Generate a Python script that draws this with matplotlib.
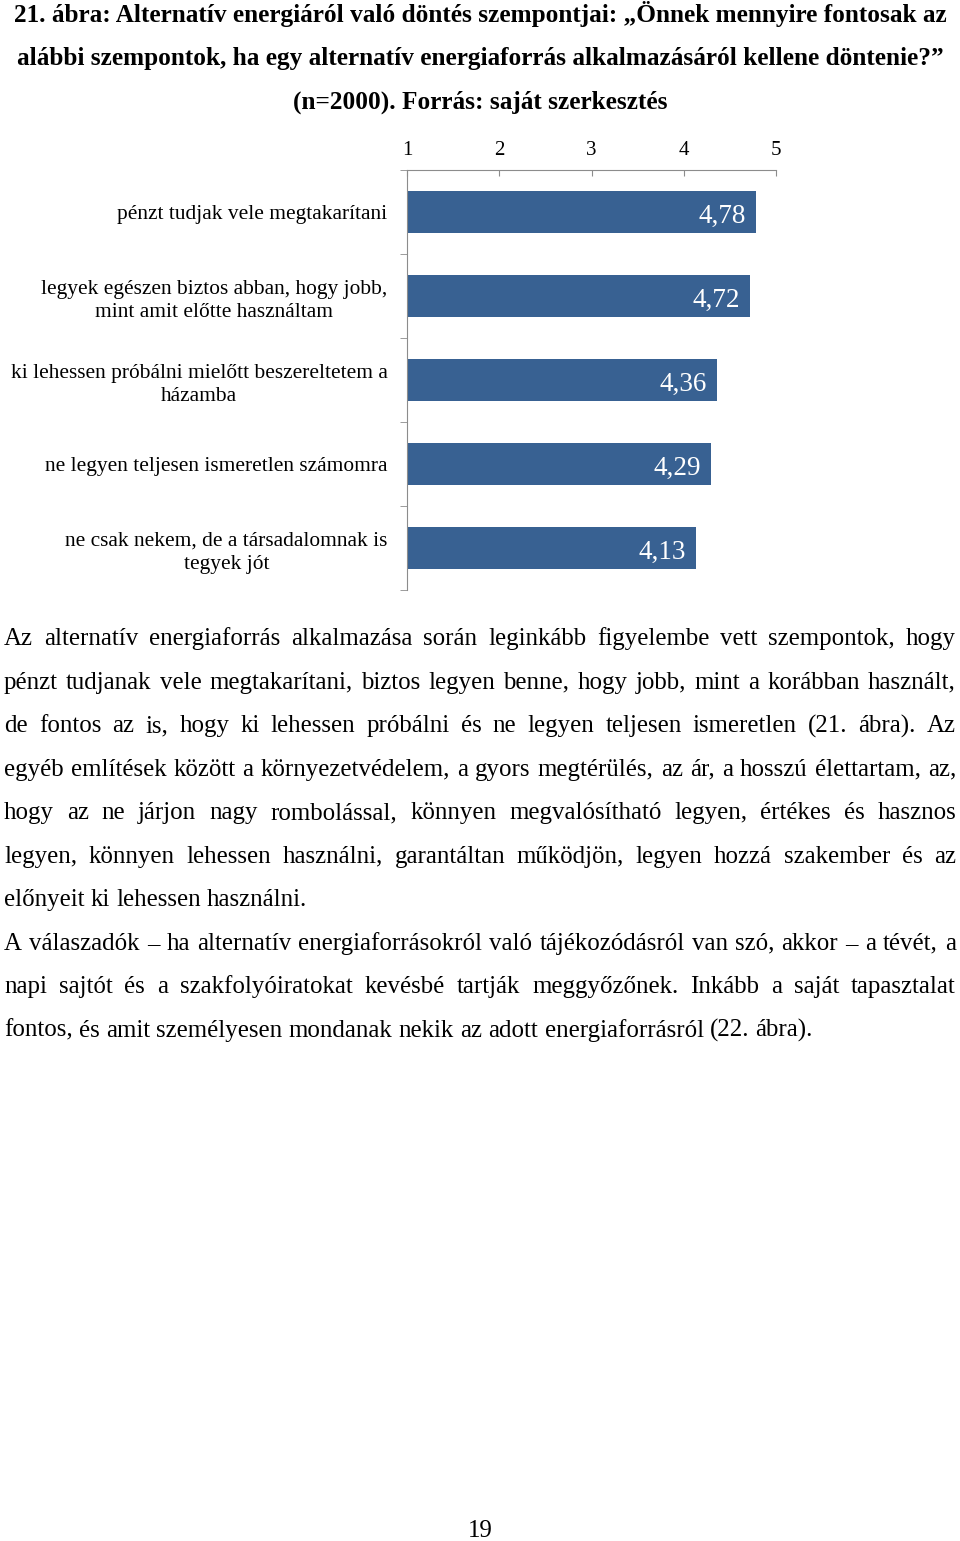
import numpy as np
import matplotlib.pyplot as plt

W, H = 960, 1541

# chart data
szempontok = [
    "pénzt tudjak vele megtakarítani",
    "legyek egészen biztos abban, hogy jobb,\nmint amit előtte használtam",
    "ki lehessen próbálni mielőtt beszereltetem a\nházamba",
    "ne legyen teljesen ismeretlen számomra",
    "ne csak nekem, de a társadalomnak is\ntegyek jót",
]
atlagok = [4.78, 4.72, 4.36, 4.29, 4.13]
skala = [1, 2, 3, 4, 5]

cim_sorok = [
    "21. ábra: Alternatív energiáról való döntés szempontjai: „Önnek mennyire fontosak az",
    "alábbi szempontok, ha egy alternatív energiaforrás alkalmazásáról kellene döntenie?”",
    "(n=2000). Forrás: saját szerkesztés",
]

# (line, justified?)
szoveg_sorok = [
    ("Az alternatív energiaforrás alkalmazása során leginkább figyelembe vett szempontok, hogy", True),
    ("pénzt tudjanak vele megtakarítani, biztos legyen benne, hogy jobb, mint a korábban használt,", True),
    ("de fontos az is, hogy ki lehessen próbálni és ne legyen teljesen ismeretlen (21. ábra). Az", True),
    ("egyéb említések között a környezetvédelem, a gyors megtérülés, az ár, a hosszú élettartam, az,", True),
    ("hogy az ne járjon nagy rombolással, könnyen megvalósítható legyen, értékes és hasznos", True),
    ("legyen, könnyen lehessen használni, garantáltan működjön, legyen hozzá szakember és az", True),
    ("előnyeit ki lehessen használni.", False),
    ("A válaszadók – ha alternatív energiaforrásokról való tájékozódásról van szó, akkor – a tévét, a", True),
    ("napi sajtót és a szakfolyóiratokat kevésbé tartják meggyőzőnek. Inkább a saját tapasztalat", True),
    ("fontos, és amit személyesen mondanak nekik az adott energiaforrásról (22. ábra).", False),
]

plt.rcParams['font.family'] = ['Liberation Serif', 'DejaVu Serif']

fig = plt.figure(figsize=(W / 100, H / 100), dpi=100)
r = fig.canvas.get_renderer()


def szelesseg(t):
    return t.get_window_extent(r).width


def sor(text, y_px, x0, x1, sorkizart, **kw):
    szavak = text.split(' ')
    objs = [fig.text(0, 1 - y_px / H, s, ha='left', va='baseline', **kw) for s in szavak]
    sz = [szelesseg(o) for o in objs]
    if sorkizart and len(szavak) > 1:
        koz = (x1 - x0 - sum(sz)) / (len(szavak) - 1)
    else:
        a = fig.text(0, 0, "x x", **kw)
        b = fig.text(0, 0, "xx", **kw)
        koz = szelesseg(a) - szelesseg(b)
        a.remove()
        b.remove()
    x = x0
    for o, w in zip(objs, sz):
        o.set_x(x / W)
        x += w + koz


# title
for i, c in enumerate(cim_sorok):
    fig.text(0.5, 1 - (22 + 43.5 * i) / H, c, ha='center', va='baseline',
             fontsize=18.2, fontweight='bold')

# chart
ax = fig.add_axes([407 / W, 1 - 590 / H, (776 - 407) / W, (590 - 170) / H])
y = np.arange(len(szempontok))
ertekek = np.array(atlagok)
bars = ax.barh(y, ertekek - 1, left=1, height=0.5, color='#386192')
for yy, v in zip(y, atlagok):
    ax.annotate(f"{v:.2f}".replace('.', ','), (v, yy), xytext=(-7, -8),
                textcoords='offset points', ha='right', va='baseline',
                color='white', fontsize=19.5)

ax.set_xlim(1, 5)
ax.set_ylim(len(szempontok) - 0.5, -0.5)
ax.xaxis.tick_top()
ax.set_xticks(skala)
ax.tick_params(axis='x', direction='in', length=4, color='#8c8c8c', pad=7,
               labelsize=15)
ax.set_yticks(y)
ax.set_yticklabels(szempontok, multialignment='center', linespacing=1.35)
ax.set_yticks(np.arange(len(szempontok) + 1) - 0.5, minor=True)
ax.tick_params(axis='y', which='major', length=0, pad=14, labelsize=15.4)
ax.tick_params(axis='y', which='minor', direction='out', length=5, color='#8c8c8c')
for s in ['right', 'bottom']:
    ax.spines[s].set_visible(False)
for s in ['top', 'left']:
    ax.spines[s].set_color('#8c8c8c')

# body text
for i, (t, sk) in enumerate(szoveg_sorok):
    sor(t, 645 + 43.55 * i, 4, 956, sk, fontsize=17.9)

fig.text(0.5, 1 - 1537 / H, "19", ha='center', va='baseline', fontsize=17.9)

fig.savefig("out.png", dpi=100)
